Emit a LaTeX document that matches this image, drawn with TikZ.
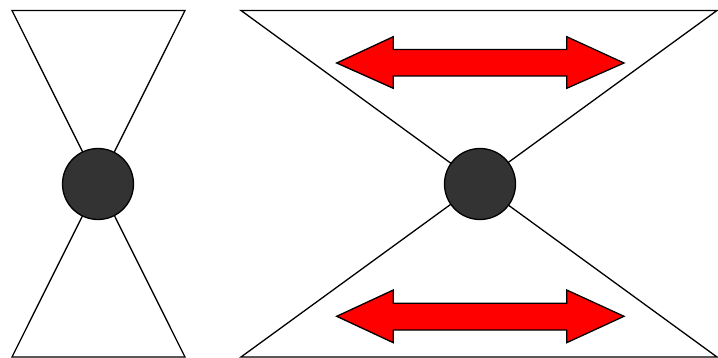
\documentclass[tikz,border=0pt]{standalone}
\usetikzlibrary{calc}
\definecolor{dotgray}{HTML}{333333}
\begin{document}
\begin{tikzpicture}[x=1pt,y=-1pt,
  edge/.style={line width=1.3pt,line join=miter},
  hub/.style={circle,draw=black,line width=1.3pt,fill=dotgray,minimum size=71pt,inner sep=0pt},
  redarrow/.style={fill=red,draw=black,line width=1.3pt,line join=miter}]
\useasboundingbox (0,0) rectangle (718,358);
% left hourglass
\coordinate (LTL) at (12,10.5);
\coordinate (LTR) at (185,10.5);
\coordinate (LBL) at (12,357);
\coordinate (LBR) at (185,357);
\draw[edge] (LBR) -- (LTL) -- (LTR) -- (LBL) -- cycle;
\node[hub] (lc) at (98,184) {};
% right hourglass
\coordinate (RTL) at (241,10.5);
\coordinate (RTR) at (717,10.5);
\coordinate (RBL) at (241,357);
\coordinate (RBR) at (717,357);
\draw[edge] (RBR) -- (RTL) -- (RTR) -- (RBL) -- cycle;
\node[hub] (rc) at (480,184) {};
% top double arrow
\draw[redarrow] (336.7,63) -- (393.3,36.7) -- (393.3,49.5) -- (566.7,49.5) -- (566.7,36.7) -- (624,63)
  -- (566.7,88.3) -- (566.7,76) -- (393.3,76) -- (393.3,88.3) -- cycle;
% bottom double arrow
\draw[redarrow] (336.7,316.3) -- (393.3,290) -- (393.3,303.3) -- (566.7,303.3) -- (566.7,290) -- (624,316.3)
  -- (566.7,342.7) -- (566.7,330) -- (393.3,330) -- (393.3,342.7) -- cycle;
\end{tikzpicture}
\end{document}
